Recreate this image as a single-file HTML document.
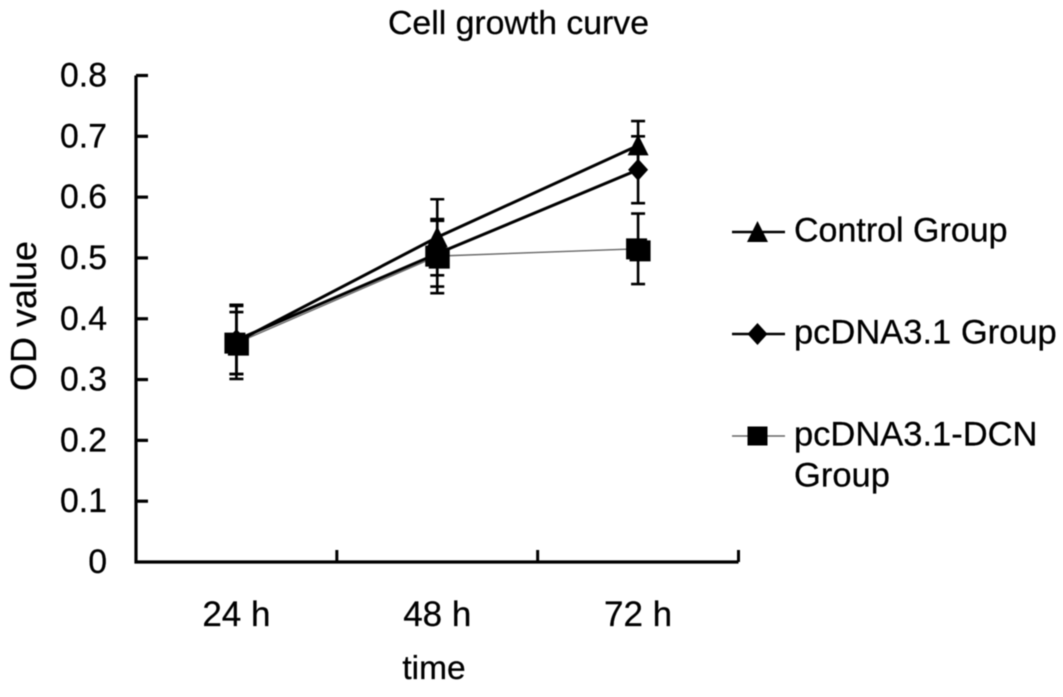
<!DOCTYPE html>
<html>
<head>
<meta charset="utf-8">
<title>Cell growth curve</title>
<style>
html,body{margin:0;padding:0;background:#fff;width:1063px;height:697px;overflow:hidden}
svg{display:block;filter:blur(0.4px)}
text{font-family:"Liberation Sans",Arial,sans-serif;fill:#000;stroke:#000;stroke-width:0.25px}
</style>
</head>
<body>
<svg id="chart" xmlns="http://www.w3.org/2000/svg" width="1063" height="697" viewBox="0 0 1063 697"></svg>
<script>
const categories = ['24 h', '48 h', '72 h'];
const yTickLabels = ['0', '0.1', '0.2', '0.3', '0.4', '0.5', '0.6', '0.7', '0.8'];
const yTickValues = [0, 0.1, 0.2, 0.3, 0.4, 0.5, 0.6, 0.7, 0.8];
const controlValues = [0.362, 0.534, 0.685];
const controlErrors = [0.061, 0.0625, 0.040];
const pcdnaValues = [0.365, 0.507, 0.645];
const pcdnaErrors = [0.056, 0.054, 0.055];
const dcnValues = [0.360, 0.503, 0.515];
const dcnErrors = [0.051, 0.061, 0.058];

const svg = document.getElementById('chart');
const NS = 'http://www.w3.org/2000/svg';
const plotLeft = 136, plotRight = 738.5, plotTop = 75.5, plotBottom = 562, yMax = 0.8;
function xScale(i) { return plotLeft + (i + 0.5) * (plotRight - plotLeft) / categories.length; }
function yScale(v) { return plotBottom - v / yMax * (plotBottom - plotTop); }
function make(tag, attrs, text) {
  const el = document.createElementNS(NS, tag);
  for (const k in attrs) el.setAttribute(k, attrs[k]);
  if (text !== undefined) el.textContent = text;
  svg.appendChild(el);
  return el;
}
function drawMarker(shape, x, y, name, legend) {
  let el;
  if (shape === 'triangle') {
    el = make('polygon', {points: (x-10.5)+','+(y+10)+' '+x+','+(y-11)+' '+(x+10.5)+','+(y+10), fill: '#000'});
  } else if (shape === 'diamond') {
    el = make('polygon', {points: (x-10)+','+y+' '+x+','+(y-11)+' '+(x+10)+','+y+' '+x+','+(y+11), fill: '#000'});
  } else if (legend) {
    el = make('rect', {x: x-10, y: y-9.5, width: 20, height: 19, fill: '#000'});
  } else {
    el = make('path', {d: 'M'+(x-12)+' '+(y-10.5)+'h21v2h3.5v21h-21v-2h-3.5z', fill: '#000'});
  }
  
  
}
function drawSeries(key, values, errors, shape, lineColor, lineWidth) {
  const pts = values.map(function (v, i) { return xScale(i) + ',' + yScale(v); }).join(' ');
  const line = make('polyline', {points: pts, fill: 'none', stroke: lineColor, 'stroke-width': lineWidth});
  
  
  values.forEach(function (v, i) {
    const x = xScale(i), top = yScale(v + errors[i]), bottom = yScale(v - errors[i]);
    const stem = make('path', {
      d: 'M' + x + ' ' + top + 'V' + bottom + 'M' + (x-7) + ' ' + top + 'H' + (x+7) + 'M' + (x-7) + ' ' + bottom + 'H' + (x+7),
      fill: 'none', stroke: '#000', 'stroke-width': 2.6
    });
    
    
  });
  return function () {
    values.forEach(function (v, i) { drawMarker(shape, xScale(i), yScale(v), key + '-marker', false); });
  };
}

const title = make('text', {x: 518.5, y: 34, 'text-anchor': 'middle', 'font-size': 33, textLength: 261, lengthAdjust: 'spacingAndGlyphs'}, 'Cell growth curve');



const axes = make('path', {
  d: 'M' + plotLeft + ' ' + plotTop + 'V' + plotBottom + 'H' + plotRight,
  fill: 'none', stroke: '#000', 'stroke-width': 3.2
});



yTickValues.forEach(function (v, i) {
  const y = yScale(v);
  if (v > 0) {
    const t = make('line', {x1: plotLeft, x2: 148, y1: y, y2: y, stroke: '#000', 'stroke-width': 3.2});
    
    
  }
  const lab = make('text', {x: 107, y: y + 11, 'text-anchor': 'end', 'font-size': 33.8}, yTickLabels[i]);
  
  
});

categories.forEach(function (c, i) {
  const tx = plotLeft + (i + 1) * (plotRight - plotLeft) / categories.length;
  const t = make('line', {x1: tx, x2: tx, y1: 550, y2: plotBottom, stroke: '#000', 'stroke-width': 3});
  
  
  const lab = make('text', {x: xScale(i), y: 626, 'text-anchor': 'middle', 'font-size': 35}, c);
  
  
});

const xTitle = make('text', {x: 434, y: 679, 'text-anchor': 'middle', 'font-size': 33.5}, 'time');



const yTitle = make('text', {x: 0, y: 0, 'text-anchor': 'middle', 'font-size': 36, transform: 'translate(36,316) rotate(-90)'}, 'OD value');



const markDcn = drawSeries('pcdna-dcn', dcnValues, dcnErrors, 'square', '#666', 1.4);
const markPc = drawSeries('pcdna', pcdnaValues, pcdnaErrors, 'diamond', '#000', 3);
const markCtl = drawSeries('control', controlValues, controlErrors, 'triangle', '#000', 3);
markPc();
markCtl();
markDcn();

function legendEntry(key, y, shape, color, width, lines, size) {
  const l = make('line', {x1: 732, x2: 785, y1: y, y2: y, stroke: color, 'stroke-width': width});
  
  
  drawMarker(shape, 757.5, y, key + '-legend-marker', true);
  lines.forEach(function (s, i) {
    const t = make('text', {x: 794, y: y + 9.5 + i * 41, 'font-size': size}, s);
    
    
  });
}
legendEntry('control', 232, 'triangle', '#000', 2.4, ['Control Group'], 34);
legendEntry('pcdna', 334, 'diamond', '#000', 2.4, ['pcDNA3.1 Group'], 34.5);
legendEntry('pcdna-dcn', 436, 'square', '#666', 1.4, ['pcDNA3.1-DCN', 'Group'], 34.5);
</script>
</body>
</html>
